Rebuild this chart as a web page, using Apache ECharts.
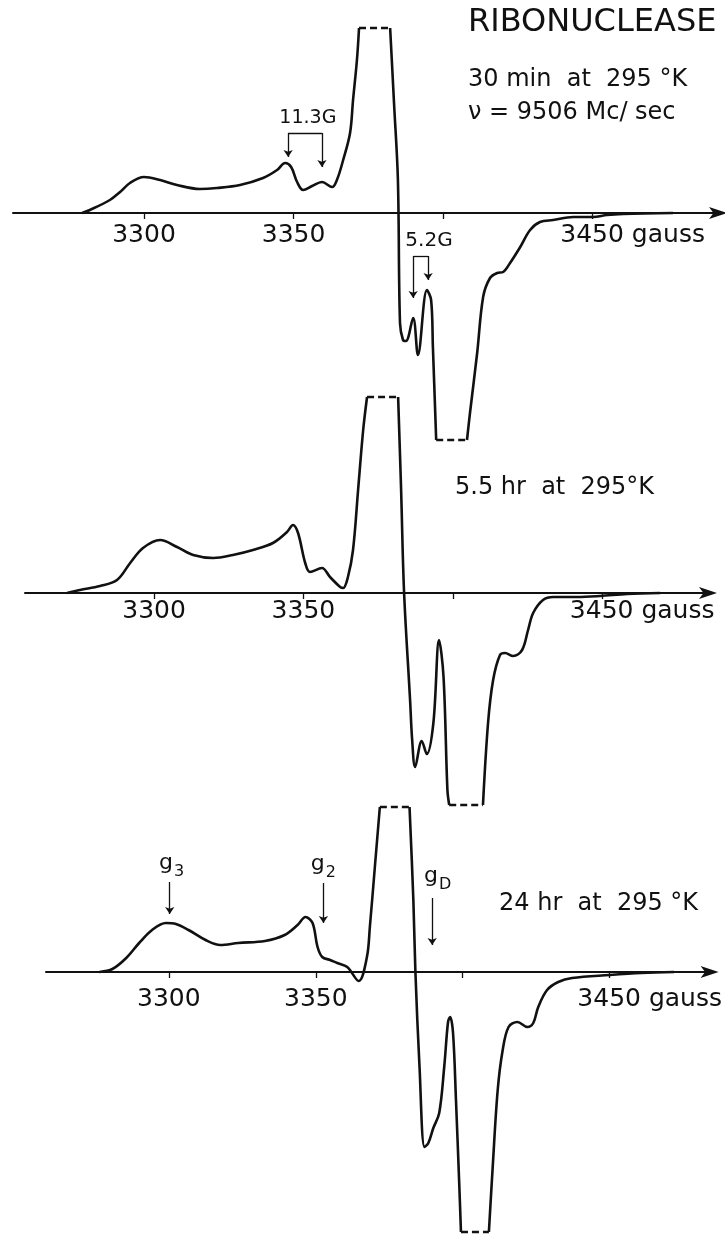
<!DOCTYPE html>
<html><head><meta charset="utf-8">
<script src="https://cdn.jsdelivr.net/npm/echarts@6/dist/echarts.min.js"></script>
<style>html,body{margin:0;padding:0;background:#fff}#c{width:725px;height:1235px}</style>
</head><body><div id="c"></div>
<script>
// ---- Data (field in gauss, derivative signal in arbitrary units; flat runs = off-scale, drawn dashed)
const tickValues = [3300, 3350, 3400, 3450];
const labelValues = [3300, 3350, 3450];

// 30 min at 295 K
const field1 = [3279.3, 3281.9, 3288.6, 3292.0, 3295.3, 3300.0, 3305.4, 3311.0, 3318.7, 3324.4, 3332.1, 3339.8, 3344.5, 3347.2, 3349.2, 3351.2, 3353.2, 3356.2, 3359.5, 3362.9, 3364.5, 3366.6, 3368.9, 3369.9, 3371.2, 3371.9, 3382.3, 3383.6, 3384.9, 3385.6, 3386.6, 3387.6, 3390.0, 3391.6, 3394.6, 3396.0, 3396.6, 3397.7, 3408.0, 3409.0, 3411.4, 3413.4, 3415.7, 3418.1, 3420.1, 3422.4, 3425.8, 3429.1, 3432.4, 3436.8, 3443.5, 3450.2, 3454.8, 3460.2, 3476.9];
const signal1 = [0, 3, 13, 21, 30, 36, 33, 28, 24, 25, 28, 35, 43, 50, 46, 31, 23, 27, 31, 26, 33, 53, 80, 113, 153, 185, 185, 110, 33, -110, -127, -128, -105, -142, -77, -87, -134, -227, -227, -200, -140, -84, -65, -60, -59, -50, -34, -17, -9, -7, -4, -4, -2, -1, 0];
const ceil1 = 185, floor1 = -227;

// 5.5 hr at 295 K
const field2 = [3270.9, 3275.2, 3281.9, 3287.6, 3292.0, 3296.3, 3302.0, 3307.7, 3313.1, 3319.8, 3326.4, 3333.1, 3339.8, 3344.5, 3346.5, 3348.2, 3350.6, 3352.2, 3356.2, 3358.9, 3362.3, 3363.3, 3364.9, 3366.6, 3368.3, 3370.0, 3371.3, 3381.7, 3382.7, 3383.7, 3385.7, 3386.4, 3387.4, 3389.6, 3391.3, 3393.5, 3395.4, 3396.9, 3398.2, 3398.8, 3410.1, 3411.8, 3413.5, 3415.8, 3417.5, 3420.2, 3423.2, 3425.2, 3426.9, 3430.2, 3433.6, 3441.6, 3449.3, 3458.4, 3469.4];
const signal2 = [0, 3, 7, 13, 30, 45, 53, 46, 38, 35, 38, 43, 50, 61, 68, 60, 30, 21, 25, 16, 6, 5, 16, 43, 103, 163, 196, 196, 103, 0, -107, -147, -174, -148, -161, -130, -47, -84, -197, -212, -212, -130, -87, -62, -60, -63, -57, -37, -20, -7, -4, -4, -3, -1, 0];
const ceil2 = 196, floor2 = -212;

// 24 hr at 295 K
const field3 = [3276.4, 3280.8, 3285.5, 3289.9, 3294.3, 3299.0, 3302.4, 3306.7, 3312.5, 3317.5, 3323.6, 3332.7, 3339.4, 3343.8, 3346.5, 3348.9, 3350.6, 3352.2, 3354.9, 3357.3, 3360.7, 3364.6, 3367.4, 3368.4, 3370.1, 3371.8, 3381.9, 3383.2, 3383.9, 3385.3, 3387.0, 3388.3, 3390.0, 3392.0, 3393.7, 3395.0, 3395.7, 3396.7, 3397.7, 3398.8, 3399.4, 3408.9, 3410.2, 3411.9, 3413.6, 3415.6, 3418.6, 3422.0, 3424.0, 3425.7, 3428.7, 3432.5, 3437.2, 3450.0, 3460.8, 3471.9];
const signal3 = [0, 3, 14, 29, 42, 49, 48, 42, 32, 27, 29, 31, 37, 47, 55, 49, 25, 15, 12, 9, 5, -9, 15, 45, 105, 165, 165, 72, 0, -95, -175, -171, -156, -141, -95, -50, -45, -61, -128, -211, -260, -260, -195, -118, -78, -55, -50, -55, -51, -35, -18, -10, -6, -3, -1, 0];
const ceil3 = 165, floor3 = -260;

// ---- Build
const FONT = "'DejaVu Sans', sans-serif";
const INK = '#111111';

function split(field, signal, ceil, floor) {
  const solid = [], dashed = [];
  for (let i = 0; i < field.length; i++) {
    solid.push([field[i], signal[i]]);
    const n = i + 1;
    if (n < field.length && signal[i] === signal[n] && (signal[i] === ceil || signal[i] === floor)) {
      solid.push([(field[i] + field[n]) / 2, '-']);
      dashed.push([[field[i], signal[i]], [field[n], signal[n]]]);
    }
  }
  return { solid, dashed };
}

const panels = [
  { f: field1, s: signal1, ceil: ceil1, floor: floor1, grid: { left: 13, right: 2, top: 28, height: 412 }, xmin: 3256.2, xmax: 3493.6, margin: 10 },
  { f: field2, s: signal2, ceil: ceil2, floor: floor2, grid: { left: 25, right: 12, top: 397, height: 408 }, xmin: 3256.8, xmax: 3487.1, margin: 6 },
  { f: field3, s: signal3, ceil: ceil3, floor: floor3, grid: { left: 46, right: 4, top: 807, height: 425 }, xmin: 3258.2, xmax: 3485.7, margin: 15 }
];

const grids = [], xAxes = [], yAxes = [], series = [];
panels.forEach((p, i) => {
  grids.push(p.grid);
  xAxes.push({
    type: 'value', gridIndex: i, min: p.xmin, max: p.xmax, position: 'bottom',
    offset: p.floor * p.grid.height / (p.ceil - p.floor),
    axisLine: { show: true, onZero: false, lineStyle: { color: INK, width: 2 }, symbol: ['none', 'arrow'], symbolSize: [9, 18], symbolOffset: [0, 4] },
    axisTick: { show: true, customValues: tickValues, length: 6, lineStyle: { color: INK, width: 1.3 } },
    axisLabel: {
      show: true, customValues: labelValues, margin: p.margin, color: INK, fontSize: 25, fontFamily: FONT,
      formatter: v => (v === 3450 ? '{p| }3450 gauss' : String(v)),
      rich: { p: { width: 80, fontSize: 25 } }
    },
    splitLine: { show: false }
  });
  yAxes.push({ type: 'value', gridIndex: i, min: p.floor, max: p.ceil, show: false, splitLine: { show: false } });
  const parts = split(p.f, p.s, p.ceil, p.floor);
  series.push({
    type: 'line', xAxisIndex: i, yAxisIndex: i, data: parts.solid, smooth: 0.35, showSymbol: false, clip: false,
    connectNulls: false, lineStyle: { color: INK, width: 2.6 }, silent: true
  });
  parts.dashed.forEach(seg => series.push({
    type: 'line', xAxisIndex: i, yAxisIndex: i, data: seg, showSymbol: false, clip: false,
    lineStyle: { color: INK, width: 2.6, type: [7, 4] }, silent: true
  }));
});

function arrowLine(i, pairs) {
  return {
    type: 'line', xAxisIndex: i, yAxisIndex: i, data: [], silent: true,
    markLine: {
      silent: true, animation: false, symbol: ['none', 'arrow'], symbolSize: 7,
      label: { show: false }, lineStyle: { color: INK, width: 1.3, type: 'solid' },
      data: pairs
    }
  };
}
const noSym = c => ({ coord: c, symbol: 'none' });
// 11.3G and 5.2G brackets (panel 1)
series.push(arrowLine(0, [
  [noSym([3348.2, 80]), noSym([3359.5, 80])],
  [{ coord: [3348.2, 80] }, { coord: [3348.2, 56] }],
  [{ coord: [3359.5, 80] }, { coord: [3359.5, 46] }],
  [noSym([3390.0, -43]), noSym([3395.0, -43])],
  [{ coord: [3390.0, -43] }, { coord: [3390.0, -85] }],
  [{ coord: [3395.0, -43] }, { coord: [3395.0, -67] }]
]));
// g markers (panel 3)
series.push(arrowLine(2, [
  [{ coord: [3300.3, 90] }, { coord: [3300.3, 58] }],
  [{ coord: [3352.6, 89] }, { coord: [3352.6, 49] }],
  [{ coord: [3389.6, 74] }, { coord: [3389.6, 27] }]
]));

function labels(i, items) {
  return {
    type: 'scatter', xAxisIndex: i, yAxisIndex: i, symbolSize: 0, clip: false, silent: true,
    itemStyle: { color: '#ffffff', opacity: 1 },
    label: {
      show: true, position: 'inside', color: INK, fontFamily: FONT, textBorderWidth: 0,
      rich: {
        g: { fontSize: 22, lineHeight: 22, verticalAlign: 'top', color: INK, fontFamily: FONT },
        s: { fontSize: 16, lineHeight: 16, padding: [12, 0, 0, 1], verticalAlign: 'top', color: INK, fontFamily: FONT }
      }
    },
    data: items
  };
}
series.push(labels(0, [
  { value: [3354.8, 95], label: { formatter: '11.3G', fontSize: 19, color: INK } },
  { value: [3395.3, -28], label: { formatter: '5.2G', fontSize: 20, color: INK } }
]));
series.push(labels(2, [
  { value: [3300.9, 109], label: { formatter: '{g|g}{s|3}', color: INK } },
  { value: [3352.6, 108], label: { formatter: '{g|g}{s|2}', color: INK } },
  { value: [3391.5, 96], label: { formatter: '{g|g}{s|D}', color: INK } }
]));

function txt(text, x, y, size) {
  return { type: 'text', x, y, style: { text, x: 0, y: 0, fill: INK, font: size + 'px ' + FONT, textVerticalAlign: 'middle', verticalAlign: 'middle' } };
}

const chart = echarts.init(document.getElementById('c'), null, { renderer: 'canvas' });
chart.setOption({
  animation: false,
  backgroundColor: '#fff',
  textStyle: { fontFamily: FONT },
  grid: grids, xAxis: xAxes, yAxis: yAxes, series,
  graphic: [
    txt('RIBONUCLEASE', 468, 23, 32),
    txt('30 min  at  295 °K', 468, 80, 24),
    txt('ν = 9506 Mc/ sec', 468, 113, 24),
    txt('5.5 hr  at  295°K', 455, 488, 24),
    txt('24 hr  at  295 °K', 499, 904, 24)
  ]
});
</script></body></html>
